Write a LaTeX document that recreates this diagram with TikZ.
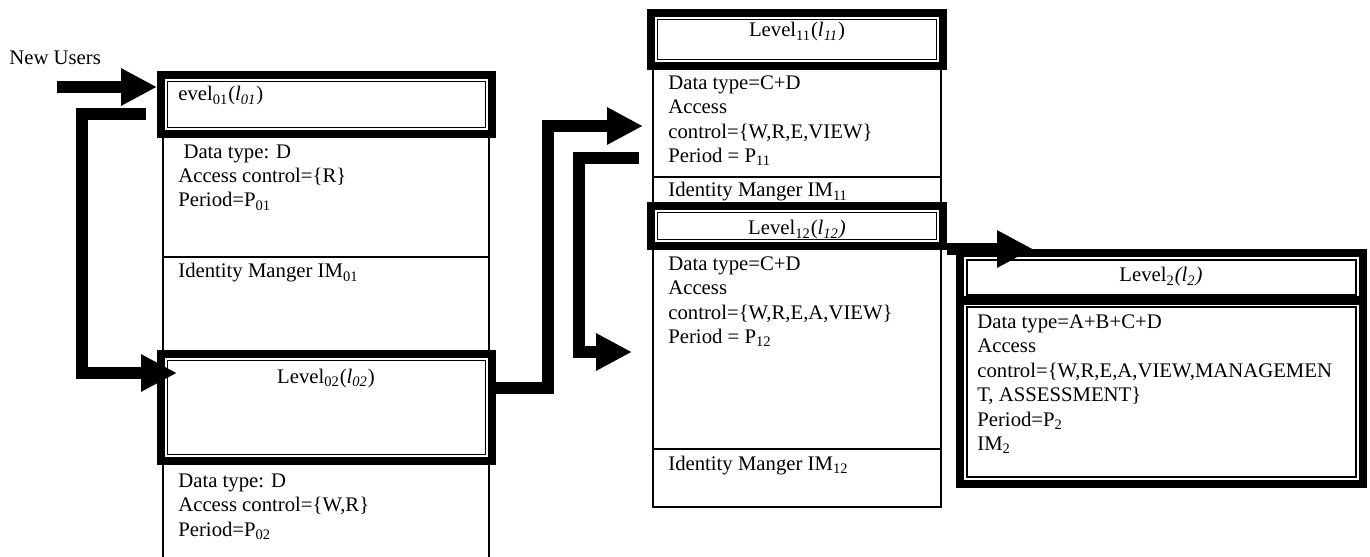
\documentclass[tikz,border=0pt]{standalone}
\usepackage{fontspec}
\setmainfont{Liberation Serif}
\usetikzlibrary{arrows.meta}

\begin{document}
\begin{tikzpicture}[x=0.02cm, y=-0.02cm,
txt/.style={font=\fontsize{11.8}{13.94}\selectfont, inner sep=0pt},
bodytext/.style={txt, align=left, anchor=base west},
headtext/.style={txt, anchor=base},
thinline/.style={line width=0.04cm},
column/.style={draw, thinline, inner sep=0pt},
framebox/.style={draw, line width=0.16cm, fill=white, inner sep=0pt},
innerline/.style={line width=0.025cm},
bigarrow/.style={line width=0.23cm, -{Triangle[length=0.72cm,width=0.70cm]}}
]
    \useasboundingbox (0,0) rectangle (1370,557);

    % columns
    \node[column, minimum width=6.52cm, minimum height=8.62cm] (col0) at (326,349.5) {};
    \node[column, minimum width=5.76cm, minimum height=8.82cm] (col1) at (797,286.5) {};
    \draw[thinline] (col0.west |- 0,257) -- (col0.east |- 0,257);
    \draw[thinline] (col1.west |- 0,177) -- (col1.east |- 0,177);
    \draw[thinline] (col1.west |- 0,449) -- (col1.east |- 0,449);

    % level headers
    \node[framebox, minimum width=6.62cm, minimum height=1.18cm] (l01) at (326.5,104.5) {};
    \node[framebox, minimum width=6.62cm, minimum height=2.14cm] (l02) at (326.5,407.5) {};
    \node[framebox, minimum width=5.84cm, minimum height=1.06cm] (l11) at (797,39.5) {};
    \node[framebox, minimum width=5.84cm, minimum height=0.8cm] (l12) at (797,226) {};
    \node[framebox, minimum width=8.06cm, minimum height=4.62cm] (l2) at (1161.5,368.5) {};

    \foreach \n in {l01,l02,l11,l12}
        \draw[innerline] ([shift={(10.5,10.5)}]\n.north west) rectangle ([shift={(-10.5,-10.5)}]\n.south east);
    \draw[line width=0.18cm] ([shift={(0,51.5)}]l2.north west) -- ([shift={(0,51.5)}]l2.north east);
    \draw[innerline] ([shift={(11,11)}]l2.north west) rectangle ([shift={(-11,46)}]l2.north east);
    \draw[innerline] ([shift={(11,58)}]l2.north west) rectangle ([shift={(-11,-11)}]l2.south east);

    % texts (multi-line nodes sit on their last baseline)
    \node[txt, anchor=base west] (users) at (9,65) {New Users};

    \node[bodytext] (t01) at (178,101) {evel\textsubscript{01}(\textit{l\textsubscript{01}})};
    \node[bodytext] (b01) at (178,207) {\ Data type: D\\Access control=\{R\}\\Period=P\textsubscript{01}};
    \node[bodytext] (im01) at (178,278) {Identity Manger IM\textsubscript{01}};

    \node[headtext] (t02) at (326,383) {Level\textsubscript{02}(\textit{l\textsubscript{02}})};
    \node[bodytext] (b02) at (178,536) {Data type: D\\Access control=\{W,R\}\\Period=P\textsubscript{02}};

    \node[headtext] (t11) at (797,37) {Level\textsubscript{11}(\textit{l\textsubscript{11}})};
    \node[bodytext] (b11) at (668,162.5) {Data type=C+D\\Access\\control=\{W,R,E,VIEW\}\\Period = P\textsubscript{11}};
    \node[bodytext] (im11) at (668,197) {Identity Manger IM\textsubscript{11}};

    \node[headtext] (t12) at (797,235) {Level\textsubscript{12}(\textit{l\textsubscript{12})}};
    \node[bodytext] (b12) at (668,343.5) {Data type=C+D\\Access\\control=\{W,R,E,A,VIEW\}\\Period = P\textsubscript{12}};
    \node[bodytext] (im12) at (668,470) {Identity Manger IM\textsubscript{12}};

    \node[headtext] (t2) at (1161,282) {Level\textsubscript{2}\textit{(l\textsubscript{2})}};
    \node[bodytext] (b2) at (977,450.5) {Data type=A+B+C+D\\Access\\control=\{W,R,E,A,VIEW,MANAGEMEN\\T, ASSESSMENT\}\\Period=P\textsubscript{2}\\IM\textsubscript{2}};

    % arrows
    \coordinate (nu) at (57,87);
    \draw[bigarrow] (nu) -- (nu -| l01.west);

    \coordinate (ret0) at (146,114);
    \coordinate (in02) at (177,373);
    \draw[bigarrow] (ret0) -| (82,373) -- (in02);

    \coordinate (out02) at (l02.east |- 0,388);
    \coordinate (in11) at (643,126);
    \draw[bigarrow] (out02) -| (548,126) -- (in11);

    \coordinate (ret1) at (639,158);
    \coordinate (in12) at (632,352);
    \draw[bigarrow] (ret1) -| (579,352) -- (in12);

    \coordinate (in2) at (1033,249);
    \draw[bigarrow] (l12.east |- in2) -- (in2);
\end{tikzpicture}
\end{document}
